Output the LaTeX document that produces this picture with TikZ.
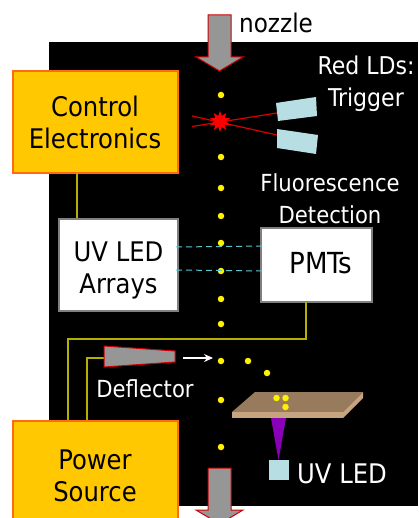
\documentclass[tikz,border=0pt]{standalone}
\usepackage{fontspec}
\setmainfont{DejaVu Sans Condensed}
\usetikzlibrary{shapes.geometric,arrows.meta}
\definecolor{boxorange}{HTML}{FFC800}
\definecolor{edgeorange}{HTML}{FF6A13}
\definecolor{wireolive}{HTML}{B5B000}
\definecolor{paleblue}{HTML}{B7DFE3}
\definecolor{arrowgray}{HTML}{969696}
\definecolor{platetop}{HTML}{977B5C}
\definecolor{plateside}{HTML}{C6A480}
\definecolor{uvbeam}{HTML}{8A00B8}
\definecolor{probeteal}{HTML}{58C8D0}
\begin{document}
\begin{tikzpicture}[x=1pt,y=-1pt,
        label/.style={font=\fontsize{#1}{32}\selectfont,align=center,inner sep=0pt},
        ctrlbox/.style={label=27,draw=edgeorange,line width=2pt,fill=boxorange},
        whitebox/.style={label=#1,draw=gray,line width=1.3pt,fill=white},
        drop/.style={circle,fill=yellow,minimum size=6.5pt,inner sep=0pt},
        flow/.style={draw=red!80!black,line width=1pt,fill=arrowgray,line join=miter},
        wire/.style={wireolive,line width=1.1pt},
        beam/.style={red!85!black,line width=1.2pt},
        probe/.style={probeteal,line width=1pt,dash pattern=on 6pt off 4pt}]
\useasboundingbox (0,0) rectangle (418,518);
\clip (0,0) rectangle (418,518);

\fill[black] (49,42) rectangle (418,506);

% droplets
\foreach \name/\xx/\yy in {a/221/95,b/221/157,c/221/188,d/221/216,e/221/243,f/221/271,
    g/221/299,h/221/324,i/221/361,j/221/400,k/221/447,m/248/361,n/267/373}
    \node[drop] (drop\name) at (\xx,\yy) {};

% trigger lasers
\coordinate (beamA) at (192,116);
\coordinate (beamB) at (192,126.5);
\coordinate (ldA) at (277,113);
\coordinate (ldB) at (277,135);
\draw[beam] (beamA) -- (ldB);
\draw[beam] (beamB) -- (ldA);
\fill[paleblue] (276,103) -- (316,97) -- (317,116) -- (278,121) -- cycle;
\fill[paleblue] (277,129) -- (318,135) -- (316,154) -- (277,148) -- cycle;
\node[star,star points=10,star point ratio=1.8,fill=red,inner sep=0pt,minimum size=21pt] (flash) at (220,121.5) {};

% boxes
\node[ctrlbox,minimum width=165pt,minimum height=102pt] (control) at (95,122) {Control\\Electronics};
\node[whitebox=27,minimum width=119pt,minimum height=92pt] (arrays) at (118.5,265) {\rule{0pt}{30pt}UV LED\\Arrays};
\node[whitebox=29,minimum width=111pt,minimum height=74pt] (pmts) at (316.5,265) {\hspace{9pt}\raisebox{4pt}{PMTs}};

% wires
\coordinate (ctrlwire) at (77,173);
\coordinate (pmtwire) at (306,302);
\coordinate (powerA) at (68,422);
\coordinate (powerB) at (87,422);
\coordinate (deflwire) at (104,358);
\draw[wire] (ctrlwire) -- (ctrlwire |- arrays.north);
\draw[wire] (pmtwire) -- (306,339) -- (68,339) -- (powerA);
\draw[wire] (deflwire) -- (87,358) -- (powerB);

% probe lines
\coordinate (probeA) at (176,247);
\coordinate (probeB) at (176,270);
\coordinate (probeC) at (265,246);
\coordinate (probeD) at (265,271);
\draw[probe] (probeA) -- (probeC);
\draw[probe] (probeB) -- (probeD);

% deflector
\draw[flow] (104,346) -- (175,351) -- (175,362) -- (104,367) -- cycle;
\coordinate (pushA) at (183,358);
\coordinate (pushB) at (213,358);
\draw[white,line width=1.2pt,-{Stealth[length=9pt,width=8pt]}] (pushA) -- (pushB);

% collection plate
\fill[platetop] (255,392) -- (363,392) -- (343,412) -- (232,412) -- cycle;
\fill[plateside] (232,412) -- (343,412) -- (343,418) -- (232,418) -- cycle;
\fill[plateside] (343,412) -- (363,392) -- (363,398) -- (343,418) -- cycle;
\foreach \name/\xx/\yy in {p/276.5/398,q/285.5/398,r/285.5/407}
    \node[drop] (drop\name) at (\xx,\yy) {};
\fill[uvbeam] (271,418) -- (286,418) -- (278.5,460) -- cycle;
\node[fill=paleblue,minimum size=20pt,inner sep=0pt] (uvled) at (279,470) {};

\node[ctrlbox,minimum width=165pt,minimum height=110pt] (power) at (95,476) {Power\\Source};

% flow arrows
\draw[flow] (208,15) -- (231,15) -- (231,57) -- (243,57) -- (219.5,71) -- (196,57) -- (208,57) -- cycle;
\draw[flow] (208,468) -- (231,468) -- (231,510) -- (243,510) -- (219.5,524) -- (196,510) -- (208,510) -- cycle;

% labels
\node[label=25.7,anchor=west] (nozzle) at (239,23) {nozzle};
\node[label=24.5,white] (trigger) at (366,84) {Red LDs:\\Trigger};
\node[label=23.5,white] (fluor) at (330,199) {Fluorescence\\Detection};
\node[label=23.5,white] (deflector) at (145,389) {Deflector};
\node[label=27,white] (uvlabel) at (342,474) {UV LED};
\end{tikzpicture}
\end{document}
